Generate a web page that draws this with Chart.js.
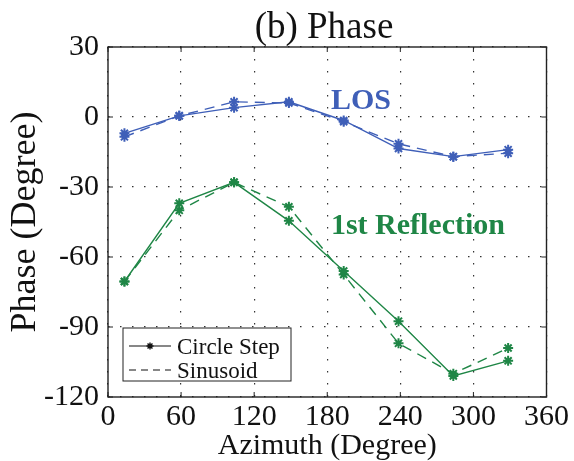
<!DOCTYPE html>
<html>
<head>
<meta charset="utf-8">
<script src="https://cdn.jsdelivr.net/npm/chart.js@4.4.1/dist/chart.umd.min.js"></script>
<style>
  html, body { margin: 0; padding: 0; background: #fff; }
  #wrap { width: 574px; height: 461px; }
</style>
</head>
<body>
<div id="wrap"><canvas id="c" width="574" height="461"></canvas></div>
<script>
// Measured phase versus azimuth for the direct path and the first reflection
const azimuth        = [13.5, 58.5, 103.5, 148.5, 193.5, 238.5, 283.5, 328.5];
const losCircleStep  = [-7, 0.5, 4, 6.5, -1.5, -13.5, -17, -14];
const losSinusoid    = [-8.5, 0.5, 6.5, 6, -2, -11.5, -17, -15.5];
const reflCircleStep = [-70.5, -37, -28, -44.5, -66, -87.5, -111, -104.5];
const reflSinusoid   = [-70.5, -40, -28, -38.5, -67.5, -97, -110, -99];

const xTicks = [0, 60, 120, 180, 240, 300, 360];
const yTicks = [30, 0, -30, -60, -90, -120];

const methodNames = ['Circle Step', 'Sinusoid'];
const pathNames   = ['LOS', '1st Reflection'];
const titleText   = '(b) Phase';
const xTitle      = 'Azimuth (Degree)';
const yTitle      = 'Phase (Degree)';

const BLUE  = '#3f5fb8';
const GREEN = '#1f8646';
const SERIF = '"Liberation Serif", "Times New Roman", serif';

const toPoints = (ys) => ys.map((y, i) => ({ x: azimuth[i], y }));

function series(label, ys, color, dashed) {
  return {
    label,
    data: toPoints(ys),
    borderColor: color,
    backgroundColor: color,
    borderWidth: 1.4,
    borderDash: dashed ? [10, 7] : [],
    pointStyle: 'star',
    pointRadius: 5,
    pointBorderWidth: 2,
    pointBorderColor: color,
    pointBackgroundColor: color,
    tension: 0,
    fill: false
  };
}

// Frame with inward ticks, drawn on all four sides
const framePlugin = {
  id: 'frame',
  afterDatasetsDraw(chart) {
    const { ctx, chartArea: a, scales: { x, y } } = chart;
    ctx.save();
    ctx.strokeStyle = '#222';
    ctx.lineWidth = 1.4;
    ctx.setLineDash([]);
    ctx.strokeRect(a.left, a.top, a.right - a.left, a.bottom - a.top);
    ctx.lineWidth = 1;
    const t = 5;
    ctx.beginPath();
    xTicks.forEach(v => {
      const px = x.getPixelForValue(v);
      ctx.moveTo(px, a.bottom); ctx.lineTo(px, a.bottom - t);
      ctx.moveTo(px, a.top);    ctx.lineTo(px, a.top + t);
    });
    yTicks.forEach(v => {
      const py = y.getPixelForValue(v);
      ctx.moveTo(a.left, py);  ctx.lineTo(a.left + t, py);
      ctx.moveTo(a.right, py); ctx.lineTo(a.right - t, py);
    });
    ctx.stroke();
    ctx.restore();
  }
};

// Title, in-plot path labels and the method legend
const textPlugin = {
  id: 'texts',
  afterDraw(chart) {
    const { ctx, chartArea: a, scales: { x, y } } = chart;
    ctx.save();
    ctx.textBaseline = 'alphabetic';

    ctx.fillStyle = '#111';
    ctx.font = '37px ' + SERIF;
    ctx.textAlign = 'center';
    ctx.fillText(titleText, 324, 38);

    ctx.textAlign = 'left';
    ctx.font = 'bold 30px ' + SERIF;
    ctx.fillStyle = BLUE;
    ctx.fillText(pathNames[0], x.getPixelForValue(183), y.getPixelForValue(3.6));
    ctx.fillStyle = GREEN;
    ctx.fillText(pathNames[1], x.getPixelForValue(183), y.getPixelForValue(-50));

    // legend box
    const bx = a.left + 15, by = 328, bw = 168, bh = 53;
    ctx.fillStyle = '#fff';
    ctx.fillRect(bx, by, bw, bh);
    ctx.strokeStyle = '#222';
    ctx.lineWidth = 1;
    ctx.strokeRect(bx, by, bw, bh);

    ctx.strokeStyle = '#111';
    ctx.lineWidth = 1.2;
    const lx0 = bx + 6, lx1 = bx + 48;
    const r1 = by + 18, r2 = by + 42;
    ctx.beginPath(); ctx.moveTo(lx0, r1); ctx.lineTo(lx1, r1); ctx.stroke();
    ctx.setLineDash([7, 5]);
    ctx.beginPath(); ctx.moveTo(lx0, r2); ctx.lineTo(lx1, r2); ctx.stroke();
    ctx.setLineDash([]);
    // asterisk marker
    const mx = (lx0 + lx1) / 2, mr = 3.5;
    ctx.lineWidth = 1.4;
    ctx.beginPath();
    for (let k = 0; k < 4; k++) {
      const ang = k * Math.PI / 4;
      ctx.moveTo(mx - mr * Math.cos(ang), r1 - mr * Math.sin(ang));
      ctx.lineTo(mx + mr * Math.cos(ang), r1 + mr * Math.sin(ang));
    }
    ctx.stroke();

    ctx.fillStyle = '#111';
    ctx.font = '23px ' + SERIF;
    ctx.fillText(methodNames[0], bx + 54, r1 + 8);
    ctx.fillText(methodNames[1], bx + 54, r2 + 8);
    ctx.restore();
  }
};

const gridColor = (ctx) => '#333';

new Chart(document.getElementById('c'), {
  type: 'line',
  data: {
    datasets: [
      series(pathNames[0] + ' ' + methodNames[0], losCircleStep, BLUE, false),
      series(pathNames[0] + ' ' + methodNames[1], losSinusoid, BLUE, true),
      series(pathNames[1] + ' ' + methodNames[0], reflCircleStep, GREEN, false),
      series(pathNames[1] + ' ' + methodNames[1], reflSinusoid, GREEN, true)
    ]
  },
  options: {
    responsive: false,
    devicePixelRatio: 1,
    animation: false,
    layout: { padding: { top: 47, right: 24, left: 0, bottom: 0 } },
    plugins: {
      legend: { display: false },
      title: { display: false },
      tooltip: { enabled: false }
    },
    scales: {
      x: {
        type: 'linear',
        min: 0, max: 360,
        afterBuildTicks: (s) => { s.ticks = xTicks.map(v => ({ value: v })); },
        afterFit: (s) => { s.height = 64; },
        ticks: {
          color: '#111',
          font: { family: SERIF, size: 30, lineHeight: 1 },
          padding: 5,
          maxRotation: 0,
          autoSkip: false
        },
        grid: { color: gridColor, lineWidth: 1.2, drawTicks: false },
        border: { display: false, dash: [1.5, 10.5] },
        title: {
          display: true, text: xTitle, color: '#111',
          font: { family: SERIF, size: 30, lineHeight: 1 },
          padding: { top: 0, bottom: 0 }
        }
      },
      y: {
        type: 'linear',
        min: -120, max: 30,
        afterBuildTicks: (s) => { s.ticks = yTicks.map(v => ({ value: v })); },
        afterFit: (s) => { s.width = 108; },
        ticks: {
          color: '#111',
          font: { family: SERIF, size: 30, lineHeight: 1 },
          padding: 9,
          autoSkip: false
        },
        grid: { color: gridColor, lineWidth: 1.2, drawTicks: false },
        border: { display: false, dash: [1.5, 10.5] },
        title: {
          display: true, text: yTitle, color: '#111',
          font: { family: SERIF, size: 36, lineHeight: 1 },
          padding: { top: 8, bottom: 0 }
        }
      }
    }
  },
  plugins: [framePlugin, textPlugin]
});
</script>
</body>
</html>
